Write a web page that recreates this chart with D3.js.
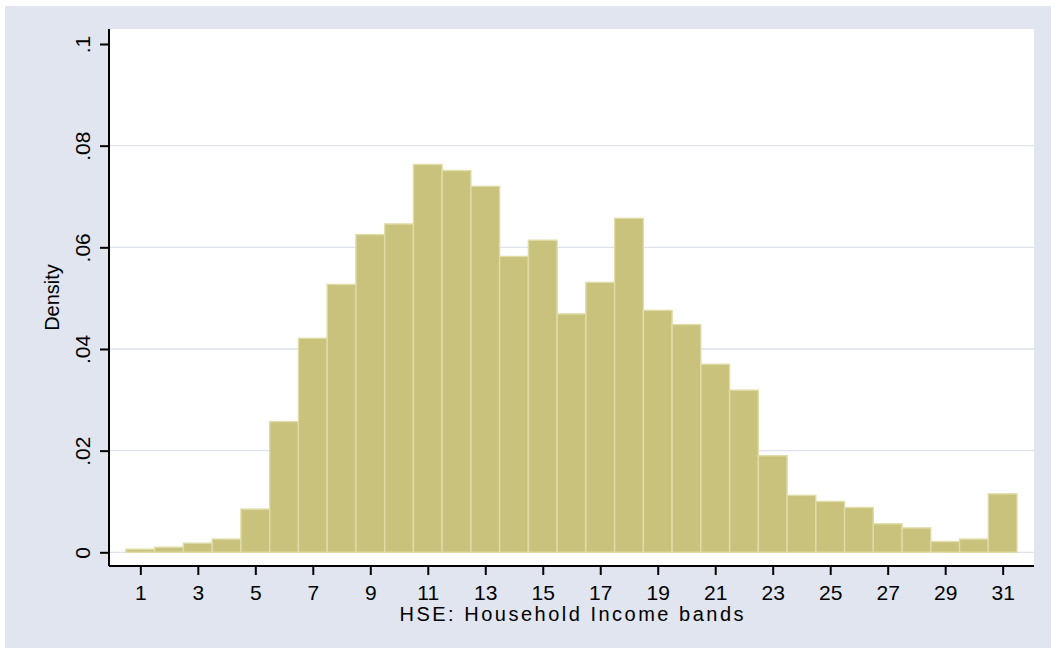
<!DOCTYPE html>
<html>
<head>
<meta charset="utf-8">
<script src="https://cdn.jsdelivr.net/npm/d3@7"></script>
<style>
  html, body { margin: 0; padding: 0; background: #ffffff; }
  svg { display: block; font-family: "Liberation Sans", Arial, sans-serif; }
</style>
</head>
<body>
<svg id="chart" width="1051" height="648"></svg>
<script>
// Income bands 1..31
const bands = d3.range(1, 32);
// Density per band
const density = [
  0.0006, 0.0010, 0.0018, 0.0026, 0.0085, 0.0257, 0.0421, 0.0527, 0.0625, 0.0646,
  0.0763, 0.0751, 0.0720, 0.0582, 0.0614, 0.0469, 0.0531, 0.0657, 0.0476, 0.0448,
  0.0370, 0.0319, 0.0190, 0.0112, 0.0100, 0.0088, 0.0056, 0.0048, 0.0021, 0.0026,
  0.0115
];
const yTicks = [0, 0.02, 0.04, 0.06, 0.08, 0.1];
const yTickLabels = ["0", ".02", ".04", ".06", ".08", ".1"];
const gridTicks = [0, 0.02, 0.04, 0.06, 0.08];
const xTicks = [1, 3, 5, 7, 9, 11, 13, 15, 17, 19, 21, 23, 25, 27, 29, 31];
const xTitle = "HSE: Household Income bands";
const yTitle = "Density";

const svg = d3.select("#chart");
const W = 1051, H = 648;
const plot = { left: 109, right: 1034, top: 29, bottom: 566 };

// background
svg.append("rect").attr("x", 5).attr("y", 6).attr("width", W - 5).attr("height", H - 6)
  .attr("fill", "#e1e5ef");
svg.append("rect").attr("x", plot.left).attr("y", plot.top)
  .attr("width", plot.right - plot.left).attr("height", plot.bottom - plot.top)
  .attr("fill", "#ffffff");

const x = d3.scaleLinear().domain([-0.09, 32.09]).range([plot.left, plot.right]);
const y = d3.scaleLinear().domain([0, 0.1]).range([552.3, 44]);

// gridlines
svg.append("g").selectAll("line").data(gridTicks).join("line")
  .attr("x1", plot.left).attr("x2", plot.right)
  .attr("y1", d => y(d)).attr("y2", d => y(d))
  .attr("stroke", "#dde2ee").attr("stroke-width", 1.3);

// bars
const data = bands.map((b, i) => ({ b, v: density[i] }));
svg.append("g").selectAll("rect").data(data).join("rect")
  .attr("x", d => x(d.b - 0.5))
  .attr("width", d => x(d.b + 0.5) - x(d.b - 0.5))
  .attr("y", d => y(d.v))
  .attr("height", d => y(0) - y(d.v))
  .attr("fill", "#c9c27c")
  .attr("stroke", "#e0dca8")
  .attr("stroke-width", 1.4);

// y axis
const yAxis = d3.axisLeft(y).tickValues(yTicks).tickSize(9).tickPadding(0)
  .tickFormat((d, i) => yTickLabels[i]);
const gy = svg.append("g").attr("transform", `translate(${plot.left},0)`).call(yAxis);
gy.select(".domain").attr("d", `M0,${plot.top}V${plot.bottom}`).attr("stroke", "#000").attr("stroke-width", 2);
gy.selectAll(".tick line").attr("stroke", "#000").attr("stroke-width", 2);
gy.selectAll(".tick text")
  .attr("x", 0).attr("y", 0).attr("dy", 0)
  .attr("transform", "translate(-19,0) rotate(-90)")
  .attr("text-anchor", "middle")
  .attr("font-size", 21)
  .attr("font-family", "Liberation Sans, Arial, sans-serif")
  .attr("fill", "#000");

// x axis
const xAxis = d3.axisBottom(x).tickValues(xTicks).tickSize(9).tickPadding(0)
  .tickFormat(d3.format("d"));
const gx = svg.append("g").attr("transform", `translate(0,${plot.bottom})`).call(xAxis);
gx.select(".domain").attr("d", `M${plot.left},0H${plot.right}`).attr("stroke", "#000").attr("stroke-width", 2);
gx.selectAll(".tick text")
  .attr("y", 34).attr("dy", 0)
  .attr("font-size", 21)
  .attr("font-family", "Liberation Sans, Arial, sans-serif")
  .attr("fill", "#000");
gx.selectAll(".tick line").attr("stroke", "#000").attr("stroke-width", 2);

// titles
svg.append("text")
  .attr("x", (plot.left + plot.right) / 2).attr("y", 620.5)
  .attr("text-anchor", "middle")
  .attr("font-size", 20)
  .attr("textLength", 344).attr("lengthAdjust", "spacing")
  .attr("fill", "#000")
  .text(xTitle);

svg.append("text")
  .attr("transform", `translate(59,${(plot.top + plot.bottom) / 2}) rotate(-90)`)
  .attr("text-anchor", "middle")
  .attr("font-size", 20)
  .attr("fill", "#000")
  .text(yTitle);
</script>
</body>
</html>
